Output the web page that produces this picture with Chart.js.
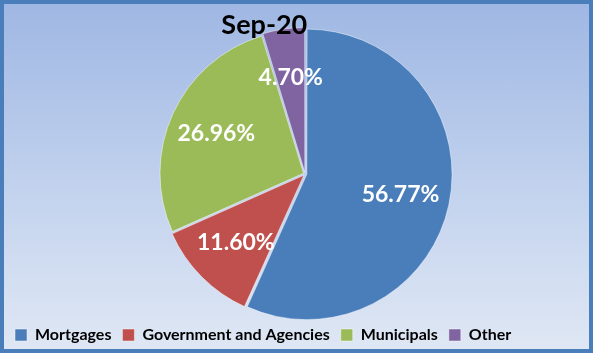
<!DOCTYPE html>
<html>
<head>
<meta charset="utf-8">
<script src="https://cdn.jsdelivr.net/npm/chart.js@4"></script>
<style>
  html, body { margin: 0; padding: 0; }
  #frame {
    box-sizing: border-box;
    width: 593px;
    height: 353px;
    border: 4px solid #4a7ebb;
    background: linear-gradient(to bottom, #9fb7e3 0%, #c3d3ee 55%, #dfe7f4 100%);
  }
  #chart-wrap { width: 585px; height: 345px; }
</style>
</head>
<body>
<div id="frame"><div id="chart-wrap"><canvas id="pie"></canvas></div></div>
<script>
const categories = ["Mortgages", "Government and Agencies", "Municipals", "Other"];
const shares = [56.77, 11.60, 26.96, 4.70];
const slice_colours = ["#4a7ebb", "#c0504d", "#9bbb59", "#8064a2"];
const chart_title = "Sep-20";

// percentages inside the slices and the title over the top of the pie
const sliceLabels = {
  id: "sliceLabels",
  afterDatasetsDraw(chart) {
    const ctx = chart.ctx;
    const meta = chart.getDatasetMeta(0);
    ctx.save();
    ctx.font = "bold 23px Lato";
    ctx.fillStyle = "#ffffff";
    ctx.textAlign = "center";
    ctx.textBaseline = "middle";
    meta.data.forEach((arc, i) => {
      const p = arc.getProps(["x", "y", "startAngle", "endAngle", "outerRadius"], true);
      const mid = (p.startAngle + p.endAngle) / 2;
      const r = p.outerRadius * 0.68;
      ctx.fillText(shares[i].toFixed(2) + "%", p.x + Math.cos(mid) * r, p.y + Math.sin(mid) * r);
    });

    ctx.font = "bold 27px Lato";
    ctx.fillStyle = "#000000";
    ctx.fillText(chart_title, chart.width * 0.445, 21);
    ctx.restore();
  }
};

new Chart(document.getElementById("pie").getContext("2d"), {
  type: "pie",
  data: {
    labels: categories,
    datasets: [{
      data: shares,
      backgroundColor: slice_colours,
      borderColor: "rgba(255,255,255,0.45)",
      borderWidth: 1,
      offset: 7,
      radius: "104%"
    }]
  },
  options: {
    responsive: true,
    maintainAspectRatio: false,
    animation: false,
    layout: { padding: { top: 28, bottom: -4, left: 0, right: 0 } },
    plugins: {
      // empty box on the left: nudges the pie right, legend keeps full width
      subtitle: {
        display: true,
        position: "left",
        fullSize: false,
        text: "",
        font: { size: 1 },
        padding: { top: 8, bottom: 8 }
      },
      legend: {
        position: "bottom",
        align: "start",
        onClick: () => {},
        labels: {
          color: "#000000",
          font: { family: "Lato", size: 16, weight: "bold" },
          boxWidth: 12,
          boxHeight: 12,
          padding: 11
        }
      },
      tooltip: { enabled: false }
    }
  },
  plugins: [sliceLabels]
});
</script>
</body>
</html>
